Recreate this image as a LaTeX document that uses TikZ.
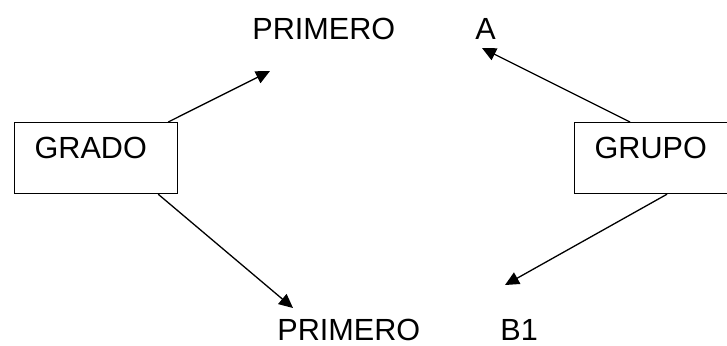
\documentclass[tikz,border=0pt]{standalone}
\usepackage{fontspec}
\setmainfont{Liberation Sans}
\usetikzlibrary{arrows.meta,positioning}

\begin{document}
\begin{tikzpicture}[x=0.5pt, y=-0.5pt,
  font=\fontsize{15.3pt}{18pt}\selectfont,
  caja/.style={draw, line width=0.6pt, anchor=north west, inner xsep=10pt, inner ysep=0pt,
    text width=61.5pt, align=left, text height=18pt, text depth=17.5pt},
  etiq/.style={anchor=base west, inner sep=0pt},
  flecha/.style={-{Triangle[length=7pt, width=6.5pt]}, line width=0.65pt}]
  \clip (0,0) rectangle (727,345);
  \node[caja] (grado) at (14,122) {GRADO};
  \node[caja] (grupo) at (574,122) {GRUPO};
  \node[etiq] (prim1) at (252,39) {PRIMERO};
  \node[etiq] (gpoa) at (475,39) {A};
  \node[etiq] (prim2) at (277,340) {PRIMERO};
  \node[etiq] (gpob) at (500,340) {B1};
  \coordinate (tprim1) at (270,71);
  \coordinate (tprim2) at (293,308);
  \coordinate (tgpoa) at (482,48);
  \coordinate (tgpob) at (505,285);
  \draw[flecha] ([xshift=-5pt]grado.north east) -- (tprim1);
  \draw[flecha] ([xshift=-10pt]grado.south east) -- (tprim2);
  \draw[flecha] ([xshift=28pt]grupo.north west) -- (tgpoa);
  \draw[flecha] ([xshift=46.5pt]grupo.south west) -- (tgpob);
\end{tikzpicture}
\end{document}
